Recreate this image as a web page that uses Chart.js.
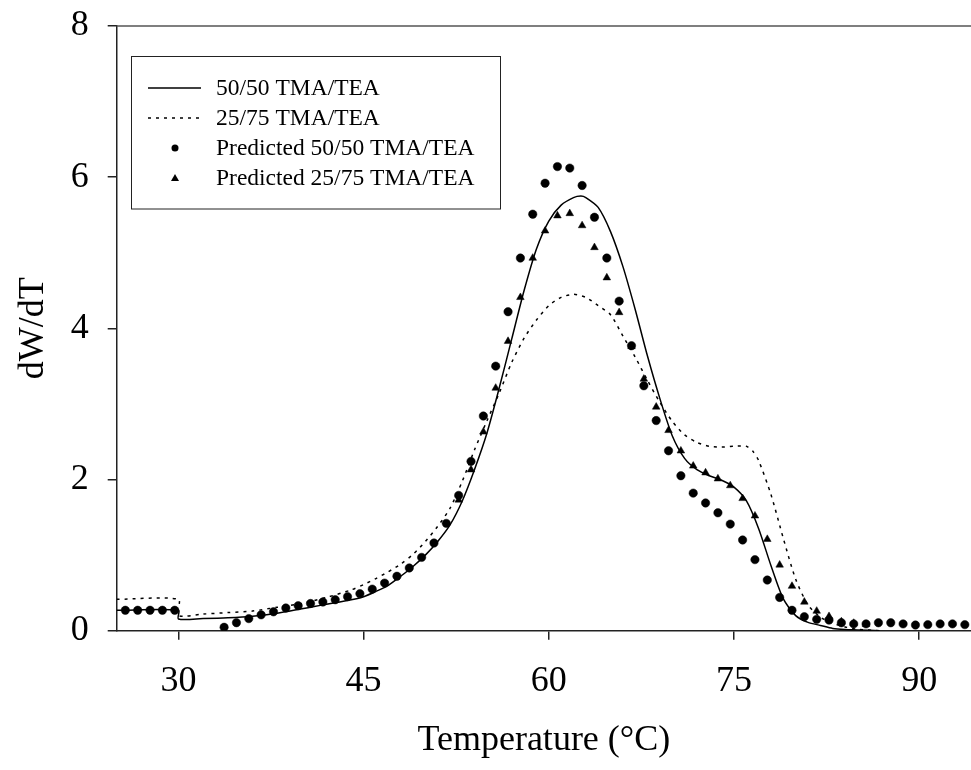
<!DOCTYPE html>
<html>
<head>
<meta charset="utf-8">
<script src="https://cdn.jsdelivr.net/npm/chart.js@4.4.1/dist/chart.umd.min.js"></script>
<style>
  html, body { margin: 0; padding: 0; background: #fff; overflow: hidden; }
  #wrap { width: 971px; height: 770px; position: relative; }
  #canvas_dwdt { display: block; }
</style>
</head>
<body>
<div id="wrap"><canvas id="canvas_dwdt"></canvas></div>
<script>
// measured curves, 50/50 TMA/TEA
var solidT = [25, 30, 30, 32, 34, 36, 38, 40, 41, 42, 44, 45, 46, 47, 48, 49, 50, 51, 52, 53, 54, 55,
  56, 57, 58, 59, 60, 61, 62, 62.6, 63, 64, 65, 66, 67, 68, 69, 70, 71, 72, 73, 74, 75, 76, 77, 78,
  79, 80, 81, 82, 83, 84, 85, 86.8];
var solidV = [0.27, 0.27, 0.155, 0.16, 0.17, 0.19, 0.23, 0.29, 0.32, 0.35, 0.41, 0.45, 0.52, 0.60, 0.72,
  0.85, 1.00, 1.18, 1.40, 1.72, 2.14, 2.62, 3.22, 3.86, 4.50, 5.05, 5.42, 5.63, 5.73, 5.75, 5.73, 5.60,
  5.28, 4.82, 4.25, 3.63, 3.07, 2.58, 2.28, 2.13, 2.05, 1.99, 1.90, 1.72, 1.35, 0.86, 0.42, 0.20, 0.11,
  0.07, 0.03, 0.015, 0.01, 0.0];

// 25/75 TMA/TEA
var dottedT = [25, 30, 30, 32, 34, 36, 38, 40, 41, 42, 44, 45, 46, 47, 48, 49, 50, 51, 52, 53, 54, 55,
  56, 57, 58, 59, 60, 61, 62, 63, 64, 65, 66, 67, 68, 69, 70, 71, 72, 73, 74, 75, 76, 76.5, 77, 78,
  79, 80, 81, 82, 83, 84, 85, 86.8];
var dottedV = [0.415, 0.415, 0.20, 0.22, 0.24, 0.26, 0.31, 0.36, 0.40, 0.44, 0.54, 0.61, 0.69, 0.78, 0.88,
  1.01, 1.18, 1.38, 1.62, 1.98, 2.40, 2.78, 3.15, 3.55, 3.87, 4.11, 4.30, 4.41, 4.45, 4.41, 4.30, 4.18,
  3.90, 3.62, 3.31, 3.02, 2.77, 2.59, 2.49, 2.44, 2.43, 2.44, 2.44, 2.38, 2.25, 1.80, 1.22, 0.68, 0.34,
  0.18, 0.10, 0.05, 0.02, 0.0];

// predicted 50/50
var circT = [25.7, 26.7, 27.7, 28.7, 29.7, 33.7, 34.7, 35.7, 36.7, 37.7, 38.7, 39.7, 40.7, 41.7, 42.7,
  43.7, 44.7, 45.7, 46.7, 47.7, 48.7, 49.7, 50.7, 51.7, 52.7, 53.7, 54.7, 55.7, 56.7, 57.7, 58.7, 59.7,
  60.7, 61.7, 62.7, 63.7, 64.7, 65.7, 66.7, 67.7, 68.7, 69.7, 70.7, 71.7, 72.7, 73.7, 74.7, 75.7, 76.7,
  77.7, 78.7, 79.7, 80.7, 81.7, 82.7, 83.7, 84.7, 85.7, 86.7, 87.7, 88.7, 89.7, 90.7, 91.7, 92.7, 93.7];
var circV = [0.27, 0.27, 0.27, 0.27, 0.27, 0.045, 0.106, 0.16, 0.21, 0.25, 0.30, 0.33, 0.36, 0.38, 0.41,
  0.45, 0.49, 0.55, 0.63, 0.72, 0.83, 0.97, 1.16, 1.42, 1.79, 2.24, 2.84, 3.50, 4.22, 4.93, 5.51, 5.92,
  6.14, 6.12, 5.89, 5.47, 4.93, 4.36, 3.77, 3.24, 2.78, 2.38, 2.05, 1.82, 1.69, 1.56, 1.41, 1.20, 0.94,
  0.67, 0.44, 0.27, 0.185, 0.15, 0.14, 0.105, 0.09, 0.09, 0.105, 0.105, 0.09, 0.075, 0.08, 0.09, 0.09, 0.08];

// predicted 25/75
var triT = [52.7, 53.7, 54.7, 55.7, 56.7, 57.7, 58.7, 59.7, 60.7, 61.7, 62.7, 63.7, 64.7, 65.7, 66.7,
  67.7, 68.7, 69.7, 70.7, 71.7, 72.7, 73.7, 74.7, 75.7, 76.7, 77.7, 78.7, 79.7, 80.7, 81.7, 82.7, 83.7,
  84.7, 85.7];
var triV = [1.73, 2.13, 2.63, 3.21, 3.83, 4.41, 4.93, 5.29, 5.49, 5.52, 5.36, 5.07, 4.67, 4.21, 3.76,
  3.33, 2.96, 2.65, 2.38, 2.18, 2.09, 2.01, 1.92, 1.75, 1.52, 1.21, 0.87, 0.59, 0.38, 0.26, 0.19, 0.12,
  0.10, 0.085];

var xTicks = [30, 45, 60, 75, 90];
var yTicks = [0, 2, 4, 6, 8];
var seriesNames = ['50/50 TMA/TEA', '25/75 TMA/TEA', 'Predicted 50/50 TMA/TEA', 'Predicted 25/75 TMA/TEA'];

function toPts(xs, ys) {
  return xs.map(function (x, i) { return { x: x, y: ys[i] }; });
}

var serif = "'Liberation Serif', 'Times New Roman', serif";

// legend box drawn inside the plot like the original
var boxLegend = {
  id: 'boxLegend',
  afterDraw: function (chart) {
    var ctx = chart.ctx;
    ctx.save();
    ctx.strokeStyle = '#222';
    ctx.lineWidth = 1;
    ctx.strokeRect(131.5, 56.5, 369, 152.5);
    ctx.font = '23.5px ' + serif;
    ctx.fillStyle = '#000';
    ctx.textBaseline = 'middle';
    chart.data.datasets.forEach(function (ds, i) {
      var y = 88 + i * 30;
      ctx.strokeStyle = '#000';
      ctx.fillStyle = '#000';
      if (ds.showLine) {
        ctx.lineWidth = ds.borderWidth;
        ctx.setLineDash(ds.borderDash || []);
        ctx.beginPath();
        ctx.moveTo(148, y);
        ctx.lineTo(201, y);
        ctx.stroke();
        ctx.setLineDash([]);
      } else if (ds.pointStyle == 'circle') {
        ctx.beginPath();
        ctx.arc(175, y, 3.5, 0, Math.PI * 2);
        ctx.fill();
      } else {
        ctx.beginPath();
        ctx.moveTo(175, y - 4);
        ctx.lineTo(179, y + 3);
        ctx.lineTo(171, y + 3);
        ctx.closePath();
        ctx.fill();
      }
      ctx.fillText(ds.label, 216, y + 1);
    });
    ctx.restore();
  }
};

// thin frame line along the top of the plot
var topFrame = {
  id: 'topFrame',
  afterDraw: function (chart) {
    var a = chart.chartArea, ctx = chart.ctx;
    ctx.save();
    ctx.strokeStyle = '#555';
    ctx.lineWidth = 1.5;
    ctx.beginPath();
    ctx.moveTo(a.left, a.top);
    ctx.lineTo(a.right, a.top);
    ctx.stroke();
    ctx.restore();
  }
};

var configFig = {
  type: 'scatter',
  data: {
    datasets: [{
      label: seriesNames[0],
      data: toPts(solidT, solidV),
      showLine: true,
      borderColor: '#000',
      borderWidth: 1.5,
      pointRadius: 0,
      tension: 0.25
    }, {
      label: seriesNames[1],
      data: toPts(dottedT, dottedV),
      showLine: true,
      borderColor: '#000',
      borderWidth: 1.5,
      borderDash: [3, 5],
      pointRadius: 0,
      tension: 0.25
    }, {
      label: seriesNames[2],
      data: toPts(circT, circV),
      showLine: false,
      pointStyle: 'circle',
      pointRadius: 4.2,
      backgroundColor: '#000',
      borderColor: '#000',
      borderWidth: 0.5
    }, {
      label: seriesNames[3],
      data: toPts(triT, triV),
      showLine: false,
      pointStyle: 'triangle',
      pointRadius: 4.4,
      backgroundColor: '#000',
      borderColor: '#000',
      borderWidth: 0.5
    }]
  },
  options: {
    responsive: true,
    maintainAspectRatio: false,
    animation: false,
    layout: { autoPadding: false, padding: { top: 26, right: 0, left: 0, bottom: 0 } },
    plugins: {
      legend: { display: false },
      tooltip: { enabled: false }
    },
    scales: {
      x: {
        type: 'linear',
        min: 25,
        max: 94.2,
        afterBuildTicks: function (s) { s.ticks = xTicks.map(function (v) { return { value: v }; }); },
        afterFit: function (s) {
          s.height = 139.3;
          s.paddingLeft = 0; s.paddingRight = 0; s.paddingTop = 0; s.paddingBottom = 0;
        },
        border: { display: true, color: '#222', width: 1.5 },
        grid: { drawOnChartArea: false, drawTicks: true, tickLength: 9, color: '#222', lineWidth: 1.5 },
        ticks: { padding: 20, color: '#000', font: { family: serif, size: 36 }, maxRotation: 0 },
        title: {
          display: true,
          text: 'Temperature (°C)',
          color: '#000',
          font: { family: serif, size: 36 },
          padding: { top: 0, bottom: 8 }
        }
      },
      y: {
        min: 0,
        max: 8,
        afterBuildTicks: function (s) { s.ticks = yTicks.map(function (v) { return { value: v }; }); },
        afterFit: function (s) {
          s.width = 116.7;
          s.paddingLeft = 0; s.paddingRight = 0; s.paddingTop = 0; s.paddingBottom = 0;
        },
        border: { display: true, color: '#222', width: 1.5 },
        grid: { drawOnChartArea: false, drawTicks: true, tickLength: 9, color: '#222', lineWidth: 1.5 },
        ticks: { padding: 19, color: '#000', font: { family: serif, size: 36 } },
        title: {
          display: true,
          text: 'dW/dT',
          color: '#000',
          font: { family: serif, size: 36 },
          padding: { top: 12, bottom: 0 }
        }
      }
    }
  },
  plugins: [boxLegend, topFrame]
};

var ctx_fig = document.getElementById('canvas_dwdt').getContext('2d');
new Chart(ctx_fig, configFig);
</script>
</body>
</html>
